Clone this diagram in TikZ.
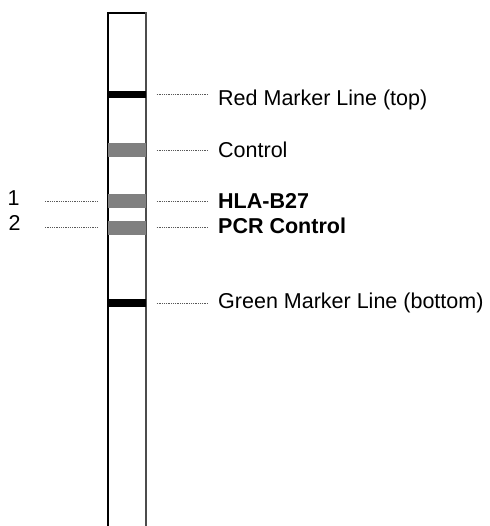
\documentclass[tikz,border=0pt]{standalone}
\usepackage{fontspec}
\setmainfont{Liberation Sans}
\begin{document}
\begin{tikzpicture}[x=1pt,y=-1pt,
  band/.style={rectangle,inner sep=0pt,outer sep=0pt,minimum width=37.4pt},
  blackband/.style={band,fill=black,minimum height=7.5pt},
  grayband/.style={band,fill=black!50,minimum height=14pt},
  lab/.style={anchor=base west,inner sep=0pt,font=\fontsize{21.5}{25}\selectfont},
  blab/.style={lab,font=\fontsize{21.5}{25}\selectfont\bfseries},
  dotline/.style={draw=black!65,line width=0.8pt,dash pattern=on 0.8pt off 1pt}]
\useasboundingbox (0,0) rectangle (489,526);
% strip
\draw[line width=1.8pt] (108.3,527) -- (108.3,13.3) -- (145.7,13.3);
\draw[line width=1.8pt,black!70] (145.7,12.4) -- (145.7,527);
% bands
\node[blackband] (red) at (127,94.5) {};
\node[grayband] (ctl) at (127,150.3) {};
\node[grayband] (hla) at (127,201.5) {};
\node[grayband] (pcr) at (127,227.6) {};
\node[blackband] (grn) at (127,303) {};
% labels
\node[lab] (lred) at (218,106) {Red Marker Line (top)};
\node[lab] (lctl) at (218,158) {Control};
\node[blab] (lhla) at (218,208.3) {HLA-B27};
\node[blab] (lpcr) at (218,233.3) {PCR Control};
\node[lab] (lgrn) at (218,308.3) {Green Marker Line (bottom)};
\node[lab] (n1) at (7.5,206) {1};
\node[lab] (n2) at (8.5,230.7) {2};
% dotted leaders
\foreach \b/\l in {red/lred,ctl/lctl,hla/lhla,pcr/lpcr,grn/lgrn}
  \draw[dotline,shorten <=11pt,shorten >=10pt] (\b.east) -- (\b.east -| \l.west);
\draw[dotline,shorten <=10.5pt,shorten >=25pt] (hla.west) -- (hla.west -| n1.east);
\draw[dotline,shorten <=10.5pt,shorten >=24pt] (pcr.west) -- (pcr.west -| n2.east);
\end{tikzpicture}
\end{document}
